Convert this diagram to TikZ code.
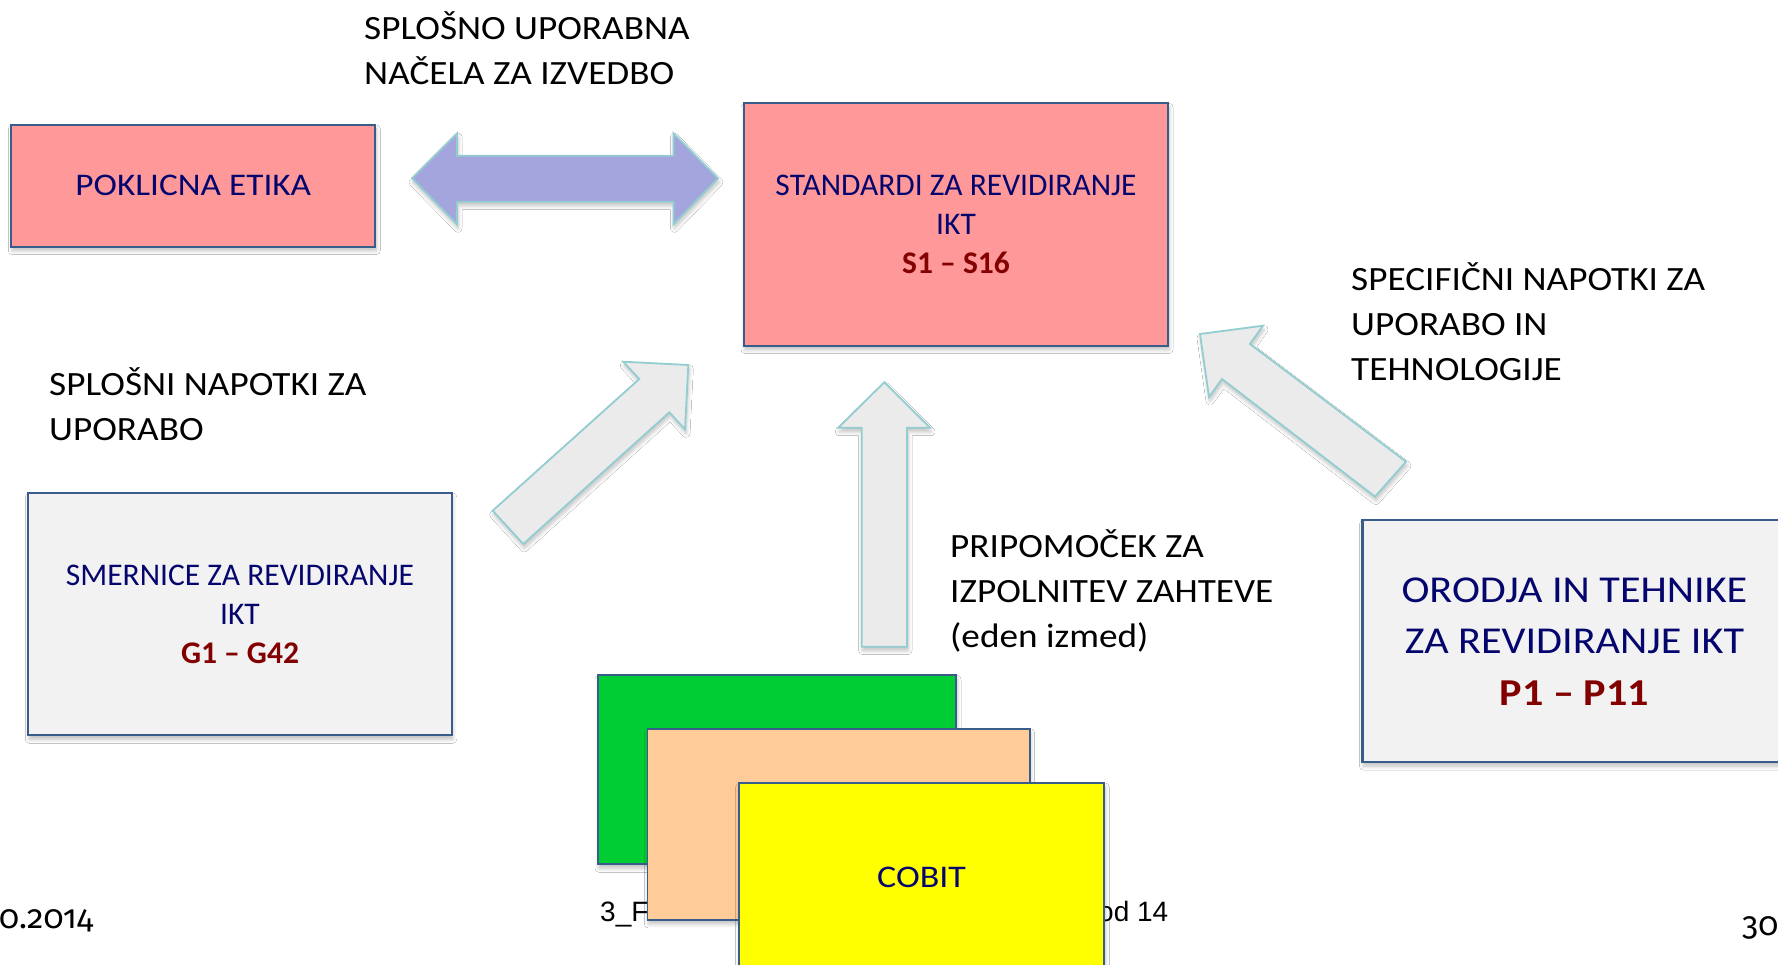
\documentclass[tikz,border=0pt]{standalone}
\usepackage{fontspec}
\setmainfont{Carlito}
\newfontfamily\blackfont[FakeStretch=1.095]{Carlito}
\newfontfamily\etikafont[FakeStretch=1.12]{Carlito}
\newfontfamily\orodjafont[FakeStretch=1.11]{Carlito}
\newfontfamily\cobitfont[FakeStretch=1.14]{Carlito}
\newfontfamily\arialf{Liberation Sans}
\newfontfamily\datef[Numbers=OldStyle]{Fira Sans}
\usetikzlibrary{shadows.blur}
\definecolor{txtblue}{RGB}{5,5,110}
\definecolor{txtred}{RGB}{130,0,0}
\definecolor{boxline}{RGB}{56,93,138}
\definecolor{pinkfill}{RGB}{255,153,153}
\definecolor{greyfill}{RGB}{242,242,242}
\definecolor{arrowline}{RGB}{146,205,210}
\definecolor{violetfill}{RGB}{165,165,222}
\definecolor{arrowfill}{RGB}{235,235,235}
\definecolor{greenfill}{RGB}{0,204,51}
\definecolor{peachfill}{RGB}{255,204,153}
\definecolor{yellowfill}{RGB}{255,255,0}
\tikzset{
  softshadow/.style={blur shadow={shadow xshift=1pt, shadow yshift=-4pt, shadow blur radius=4pt, shadow blur steps=6, shadow opacity=25}},
  boxbase/.style={draw=boxline, line width=2.2pt, inner sep=0pt, align=center, text=txtblue, softshadow},
  pinkbox/.style={boxbase, fill=pinkfill},
  greybox/.style={boxbase, fill=greyfill},
  stackbox/.style={draw=boxline, line width=1.8pt, inner sep=0pt, softshadow},
  boxtxt/.style={font=\fontsize{31.5}{39.3}\selectfont},
  etikatxt/.style={font=\etikafont\fontsize{31.5}{39.3}\selectfont},
  cobittxt/.style={font=\cobitfont\fontsize{31.5}{39.3}\selectfont},
  bigtxt/.style={font=\orodjafont\fontsize{38}{51.5}\selectfont},
  blacktxt/.style={font=\blackfont\fontsize{34}{45}\selectfont, align=left, inner sep=0pt, anchor=base west, text=black},
  blockarrow/.style={draw=arrowline, line width=1.8pt, line join=miter, softshadow},
  foottxt/.style={font=\arialf\fontsize{28}{30}\selectfont, inner sep=0pt, text=black},
  datetxt/.style={font=\datef\fontsize{33}{35}\selectfont, inner sep=0pt, anchor=base west, text=black},
}
\newcommand{\redl}[1]{\textcolor{txtred}{\bfseries #1}}
\begin{document}
\begin{tikzpicture}[x=1pt,y=-1pt]
\useasboundingbox (0,0) rectangle (1778,965);
\clip (0,0) rectangle (1778,965);
\fill[white] (0,0) rectangle (1778,965);

% footer texts (behind the stacked boxes)
\node[datetxt] (date) at (-1,928) {0.2014};
\node[datetxt] (pagenum) at (1742,935) {30};
\node[foottxt, anchor=base west] (footl) at (600,921.5) {3\_F};
\node[foottxt, anchor=base east] (footr) at (1168.5,921.5) {od 14};

% free texts (anchored at the baseline of their last line)
\node[blacktxt] (tsplosno) at (364,84.5) {SPLOŠNO UPORABNA\\NAČELA ZA IZVEDBO};
\node[blacktxt] (tnapotki) at (49,441) {SPLOŠNI NAPOTKI ZA\\UPORABO};
\node[blacktxt] (tspec) at (1351,381) {SPECIFIČNI NAPOTKI ZA\\UPORABO IN\\TEHNOLOGIJE};
\node[blacktxt] (tpripo) at (950,647) {PRIPOMOČEK ZA\\IZPOLNITEV ZAHTEVE\\(eden izmed)};

% boxes
\node[pinkbox, etikatxt, minimum width=364pt, minimum height=121.7pt] (etika) at (193.3,185.8) {POKLICNA ETIKA};
\node[pinkbox, boxtxt, minimum width=424pt, minimum height=242.3pt] (standardi) at (956,224.5) {STANDARDI ZA REVIDIRANJE\\IKT\\\redl{S1 – S16}};
\node[greybox, boxtxt, minimum width=423.5pt, minimum height=242.3pt] (smernice) at (240,614.2) {SMERNICE ZA REVIDIRANJE\\IKT\\\redl{G1 – G42}};
\node[greybox, bigtxt, minimum width=424pt, minimum height=241.7pt] (orodja) at (1574.4,641.2) {ORODJA IN TEHNIKE\\ZA REVIDIRANJE IKT\\\redl{P1 – P11}};

% block arrows
\path[blockarrow, fill=violetfill] (412,178.3) -- (457,133.3) -- (457,155.7) -- (673.5,155.7) -- (673.5,133.3) -- (718,178.3) -- (673.5,224.3) -- (673.5,201.7) -- (457,201.7) -- (457,224.3) -- cycle;
\path[blockarrow, fill=arrowfill] (688.3,365) -- (623.3,361.7) -- (639.3,379) -- (492.7,510.7) -- (523.3,544) -- (669.3,412.3) -- (685,429.3) -- cycle;
\path[blockarrow, fill=arrowfill] (884.3,382.3) -- (930,427.7) -- (907,427.7) -- (907,646.7) -- (861.7,646.7) -- (861.7,427.7) -- (838.3,427.7) -- cycle;
\path[blockarrow, fill=arrowfill] (1200,334) -- (1263,325.7) -- (1250,344) -- (1406,461.7) -- (1375,496.6) -- (1222,379) -- (1209,397) -- cycle;

% stacked boxes
\node[stackbox, fill=greenfill, minimum width=358pt, minimum height=189pt] (green) at (777,769.8) {};
\node[stackbox, fill=peachfill, minimum width=382.2pt, minimum height=191.3pt] (peach) at (838.5,824.3) {};
\node[stackbox, fill=yellowfill, minimum width=365.7pt, minimum height=189pt, text=txtblue, cobittxt] (cobit) at (921.5,877.5) {COBIT};
\end{tikzpicture}
\end{document}
